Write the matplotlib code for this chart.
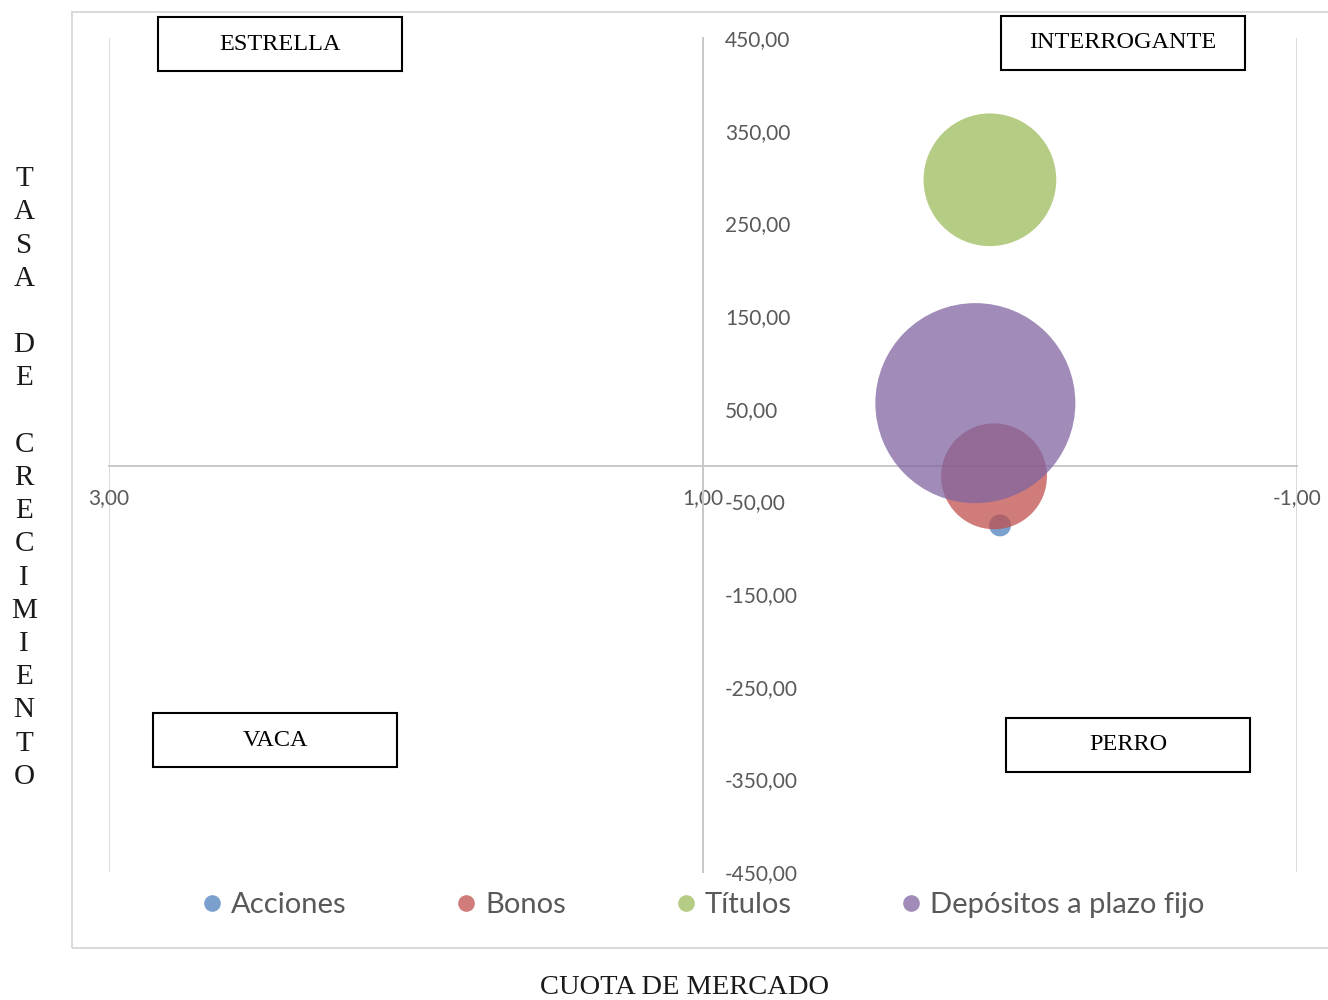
import matplotlib.pyplot as plt
from matplotlib.patches import Rectangle
from matplotlib.lines import Line2D

# datos de la matriz BCG
productos = ["Acciones", "Bonos", "Títulos", "Depósitos a plazo fijo"]
cuota_mercado = [0.00, 0.02, 0.034, 0.083]
tasa_crecimiento = [-76, -23, 297, 56]
tamano = [1.2, 28, 44, 100]
colores = ["#4F81BD", "#C0504D", "#9BBB59", "#8064A2"]

cuadrantes = ["ESTRELLA", "INTERROGANTE", "VACA", "PERRO"]
x_ticks = [3, 1, -1]
y_ticks = [450, 350, 250, 150, 50, -50, -150, -250, -350, -450]
cruce_x = 1
cruce_y = -12

W, H = 1328, 1000


def fx(px):
    return px / W


def fy(py):
    return 1 - py / H


def coma(v):
    return f"{v:.2f}".replace(".", ",")


fig = plt.figure(figsize=(W / 100, H / 100), dpi=100)

# borde del area del grafico
fig.add_artist(Rectangle((fx(72), fy(948)), fx(1400) - fx(72), fy(12) - fy(948),
                         transform=fig.transFigure, fill=False,
                         edgecolor="#D9D9D9", lw=1.4))

ax = fig.add_axes([fx(109), fy(872), fx(1297) - fx(109), fy(38) - fy(872)])
ax.set_xlim(3, -1)
ax.set_ylim(-450, 450)

# burbujas: el area es proporcional al tamano
escala = (1.44 * 100) ** 2 / max(tamano)
for i in range(len(productos)):
    ax.scatter(cuota_mercado[i], tasa_crecimiento[i], s=tamano[i] * escala,
               color=colores[i], alpha=0.75, edgecolors="none", zorder=3 + i)

for lado in ["top", "left"]:
    ax.spines[lado].set_visible(False)
ax.spines["right"].set_position(("data", cruce_x))
ax.spines["bottom"].set_position(("data", cruce_y))
for lado in ["right", "bottom"]:
    ax.spines[lado].set_color("#C8C8C8")
    ax.spines[lado].set_linewidth(1.4)

ax.yaxis.set_ticks_position("right")
ax.set_yticks(y_ticks)
ax.set_yticklabels([coma(v) for v in y_ticks])
ax.set_xticks(x_ticks)
ax.set_xticklabels([coma(v) for v in x_ticks])
ax.tick_params(axis="y", length=0, pad=16, labelsize=15, labelcolor="#595959")
ax.tick_params(axis="x", length=0, pad=16, labelsize=15, labelcolor="#595959")
for t in ax.get_xticklabels() + ax.get_yticklabels():
    t.set_fontfamily("Lato")

ax.grid(axis="x", color="#D9D9D9", lw=1.4)
ax.set_axisbelow(True)

# cajas de los cuadrantes
cajas = [(158, 17), (1001, 16), (153, 713), (1006, 718)]
for nombre, (x0, y0) in zip(cuadrantes, cajas):
    fig.add_artist(Rectangle((fx(x0), fy(y0 + 54)), fx(244), 54 / H,
                             transform=fig.transFigure, facecolor="white",
                             edgecolor="black", lw=1.5, zorder=10))
    fig.text(fx(x0 + 122), fy(y0 + 27), nombre, ha="center", va="center",
             family="Liberation Serif", fontsize=17.5, color="black", zorder=11)

# titulos de los ejes
fig.text(fx(24), fy(478), "\n".join("TASA DE CRECIMIENTO"), ha="center",
         va="center", family="Liberation Serif", fontsize=21,
         linespacing=1.36, color="#1A1A1A")
fig.text(fx(684), fy(988), "CUOTA DE MERCADO", ha="center", va="center",
         family="Liberation Serif", fontsize=20.5, color="#1A1A1A")

handles = [Line2D([], [], marker="o", linestyle="", markersize=12,
                  markerfacecolor=c, markeredgecolor="none", alpha=0.75)
           for c in colores]
fig.legend(handles, productos, loc="center", bbox_to_anchor=(fx(704), fy(905)),
           ncol=4, frameon=False, prop={"family": "Lato", "size": 21},
           labelcolor="#595959", handlelength=0.6, handletextpad=0.35,
           columnspacing=3.8)

fig.savefig("out.png", dpi=100)
